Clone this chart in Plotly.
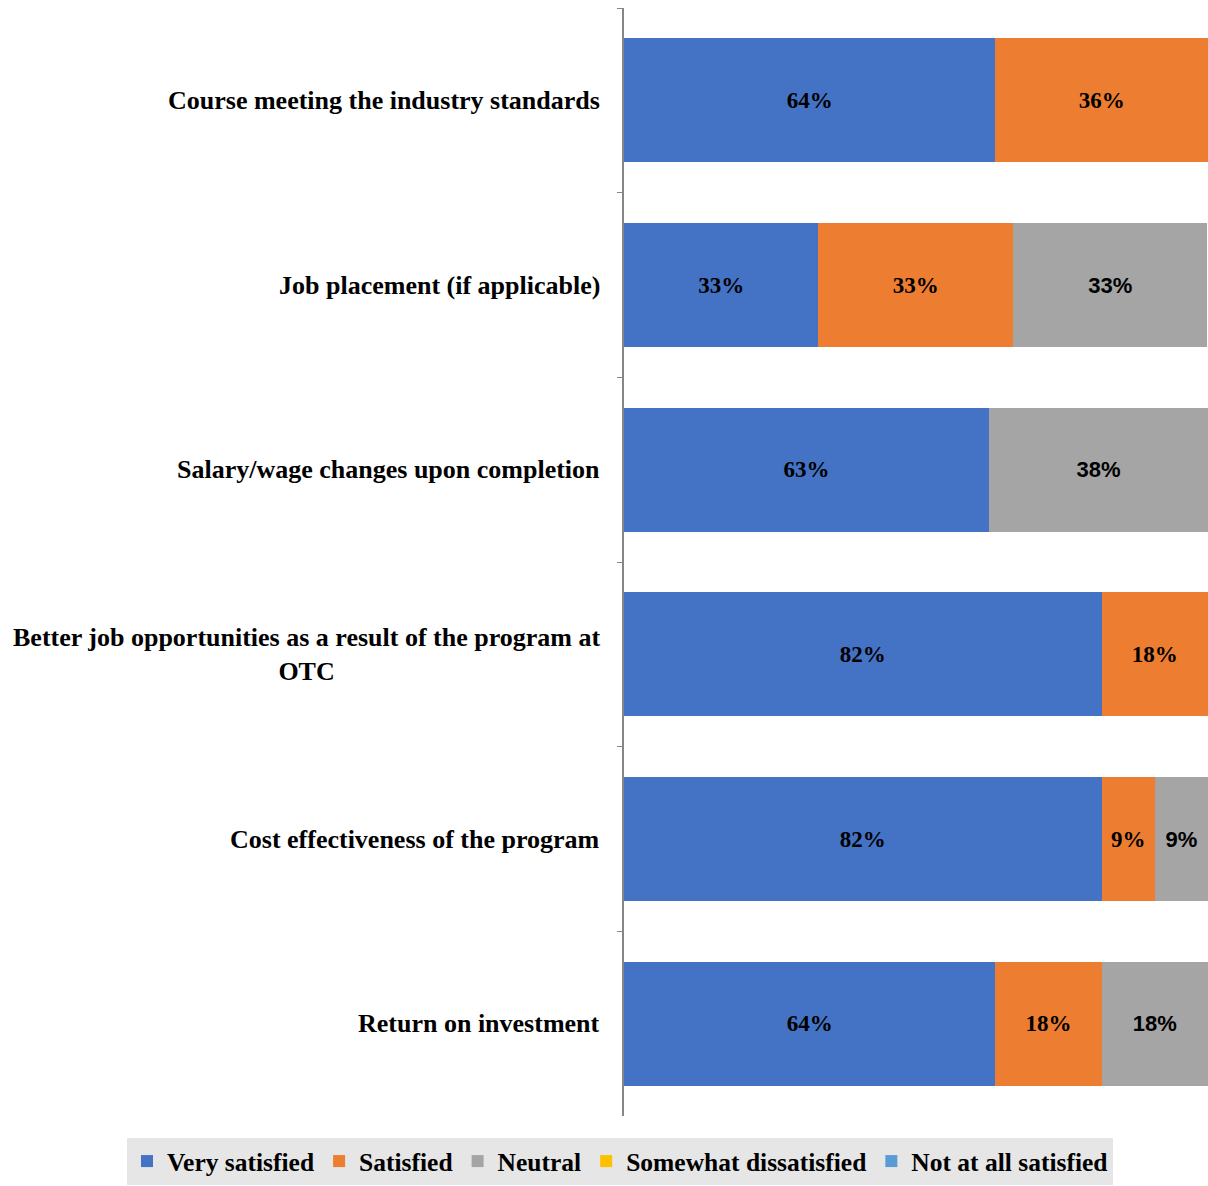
import plotly.graph_objects as go

categories = [
    "Course meeting the industry standards",
    "Job placement (if applicable)",
    "Salary/wage changes upon completion",
    "Better job opportunities as a result of the program at<br>OTC",
    "Cost effectiveness of the program",
    "Return on investment",
]
very_satisfied = [63.6, 33.3, 62.5, 81.8, 81.8, 63.6]
satisfied = [36.4, 33.3, 0, 18.2, 9.1, 18.2]
neutral = [0, 33.3, 37.5, 0, 9.1, 18.2]
somewhat_dissatisfied = [0, 0, 0, 0, 0, 0]
not_at_all = [0, 0, 0, 0, 0, 0]

series = [
    ("Very satisfied", very_satisfied, "#4472C4", "Liberation Serif"),
    ("Satisfied", satisfied, "#ED7D31", "Liberation Serif"),
    ("Neutral", neutral, "#A5A5A5", "Liberation Sans"),
    ("Somewhat dissatisfied", somewhat_dissatisfied, "#FFC000", "Liberation Serif"),
    ("Not at all satisfied", not_at_all, "#5B9BD5", "Liberation Serif"),
]

fig = go.Figure()
for name, vals, color, fam in series:
    fig.add_trace(go.Bar(
        y=categories, x=vals, name=name, orientation="h",
        marker=dict(color=color, line=dict(width=0)),
        texttemplate=["%{x:.0f}%" if v > 0 else "" for v in vals],
        textposition="inside", insidetextanchor="middle",
        textfont=dict(family=fam, size=23 if fam.endswith("Serif") else 22,
                      color="black", weight="bold"),
        constraintext="none",
    ))

for c in categories:
    fig.add_annotation(
        x=0, xref="paper", xanchor="right", xshift=-22,
        y=c, yref="y", text=c, showarrow=False, align="center",
        font=dict(family="Liberation Serif", size=26, color="black", weight="bold"),
    )

fig.update_layout(
    barmode="stack", bargap=0.33,
    width=1208, height=1186,
    margin=dict(l=624, r=0, t=8, b=70),
    plot_bgcolor="white", paper_bgcolor="white",
    showlegend=True,
    legend=dict(
        orientation="h", x=(127 - 624) / 584, xanchor="left",
        y=-(1138 - 1116) / 1108, yanchor="top",
        bgcolor="#E6E6E6",
        font=dict(family="Liberation Serif", size=25.5, color="black", weight="bold"),
        traceorder="normal", itemwidth=30,
    ),
    xaxis=dict(range=[0, 100], visible=False, fixedrange=True),
    yaxis=dict(
        autorange="reversed", showticklabels=False, showline=True,
        linecolor="#868686", linewidth=1.5, ticks="outside", ticklen=5,
        tickcolor="#868686", tickson="boundaries", showgrid=False, zeroline=False,
    ),
    uniformtext=dict(mode=False),
)

fig.write_html("out.html")
